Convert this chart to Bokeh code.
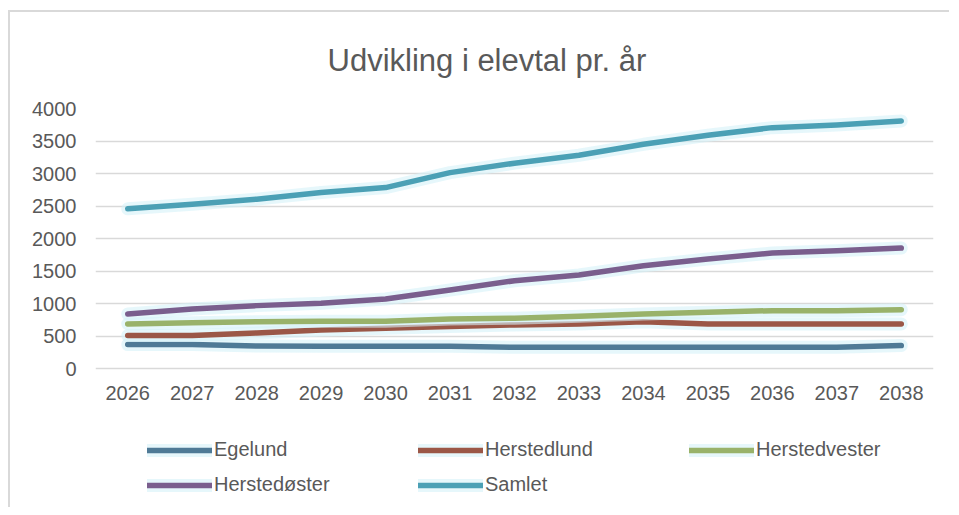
from bokeh.plotting import figure
from bokeh.models import Legend, LegendItem, FactorRange, Range1d, FixedTicker, Grid
from bokeh.core.properties import value
from bokeh.embed import file_html
from bokeh.resources import INLINE

years = ["2026", "2027", "2028", "2029", "2030", "2031", "2032",
         "2033", "2034", "2035", "2036", "2037", "2038"]
egelund = [373, 373, 350, 345, 345, 345, 330, 330, 330, 330, 330, 330, 357]
herstedlund = [511, 511, 552, 598, 623, 649, 675, 690, 725, 690, 690, 690, 690]
herstedvester = [690, 706, 725, 730, 730, 767, 776, 807, 843, 868, 894, 894, 909]
herstedoster = [843, 920, 971, 1006, 1073, 1211, 1354, 1442, 1584, 1687, 1779, 1815, 1856]
samlet = [2460, 2530, 2607, 2709, 2785, 3015, 3160, 3282, 3450, 3589, 3706, 3747, 3808]
y_ticks = [0, 500, 1000, 1500, 2000, 2500, 3000, 3500, 4000]
y_min, y_max = 0, 4000

series = [
    ("Egelund", egelund, "#4f7a96"),
    ("Herstedlund", herstedlund, "#9b5747"),
    ("Herstedvester", herstedvester, "#99b26a"),
    ("Herstedøster", herstedoster, "#7a5e8d"),
    ("Samlet", samlet, "#4ba0b5"),
]

FONT = "Liberation Sans"
TXT = "#595959"

# frame extends below the value axis to hold the legend (legend is clipped to frame)
p = figure(width=941, height=497, x_range=FactorRange(*years, range_padding=0),
           y_range=Range1d(-2085, y_max), output_backend="svg", toolbar_location=None,
           x_axis_location=None,
           min_border_left=85, min_border_right=18, min_border_top=96,
           min_border_bottom=5, title="Udvikling i elevtal pr. år")
p.styles = {"border-left": "2px solid #d9d9d9", "border-top": "2px solid #d9d9d9",
            "margin-left": "8px", "margin-top": "10px"}

p.title.text_font = FONT
p.title.text_font_size = "31px"
p.title.text_font_style = "normal"
p.title.text_color = TXT
p.title.align = "left"
p.title.offset = 232
p.title.vertical_align = "top"
p.title.standoff = 57

p.outline_line_color = None
for r in p.center:
    if isinstance(r, Grid) and r.dimension == 0:
        r.grid_line_color = None
p.ygrid.grid_line_color = "#d9d9d9"
p.ygrid.grid_line_width = 1.5
p.yaxis.ticker = FixedTicker(ticks=y_ticks)
p.yaxis.axis_line_color = None
p.yaxis.major_tick_line_color = None
p.yaxis.minor_tick_line_color = None
p.yaxis.major_label_text_font = FONT
p.yaxis.major_label_text_font_size = "20px"
p.yaxis.major_label_text_color = TXT
p.yaxis.major_label_standoff = 13

# category labels under the zero line
p.text(x=years, y=[y_min] * len(years), text=years, y_offset=17,
       text_align="center", text_baseline="top", text_font=value(FONT),
       text_font_size=value("20px"), text_color=TXT)

renderers = {}
for name, vals, col in series:
    glow = p.line(years, vals, line_width=13, line_color="#d6f2f8", line_alpha=0.6,
                  line_cap="round", line_join="round")
    ln = p.line(years, vals, line_width=5.5, line_color=col,
                line_cap="round", line_join="round")
    renderers[name] = [glow, ln]

# legend fills column by column: order so rows read like the reference
legend_order = ["Egelund", "Herstedøster", "Herstedlund", "Samlet", "Herstedvester"]
items = [LegendItem(label=n, renderers=renderers[n]) for n in legend_order]

legend = Legend(items=items, ncols=3, location=(52, 8),
                glyph_width=65, glyph_height=20, label_height=20,
                label_width=192, label_standoff=2, spacing=12,
                padding=0, margin=0, border_line_color=None,
                background_fill_alpha=0,
                label_text_font=FONT, label_text_font_size="20px",
                label_text_color=TXT)
p.add_layout(legend, "center")

open("out.html", "w").write(file_html(p, INLINE))
